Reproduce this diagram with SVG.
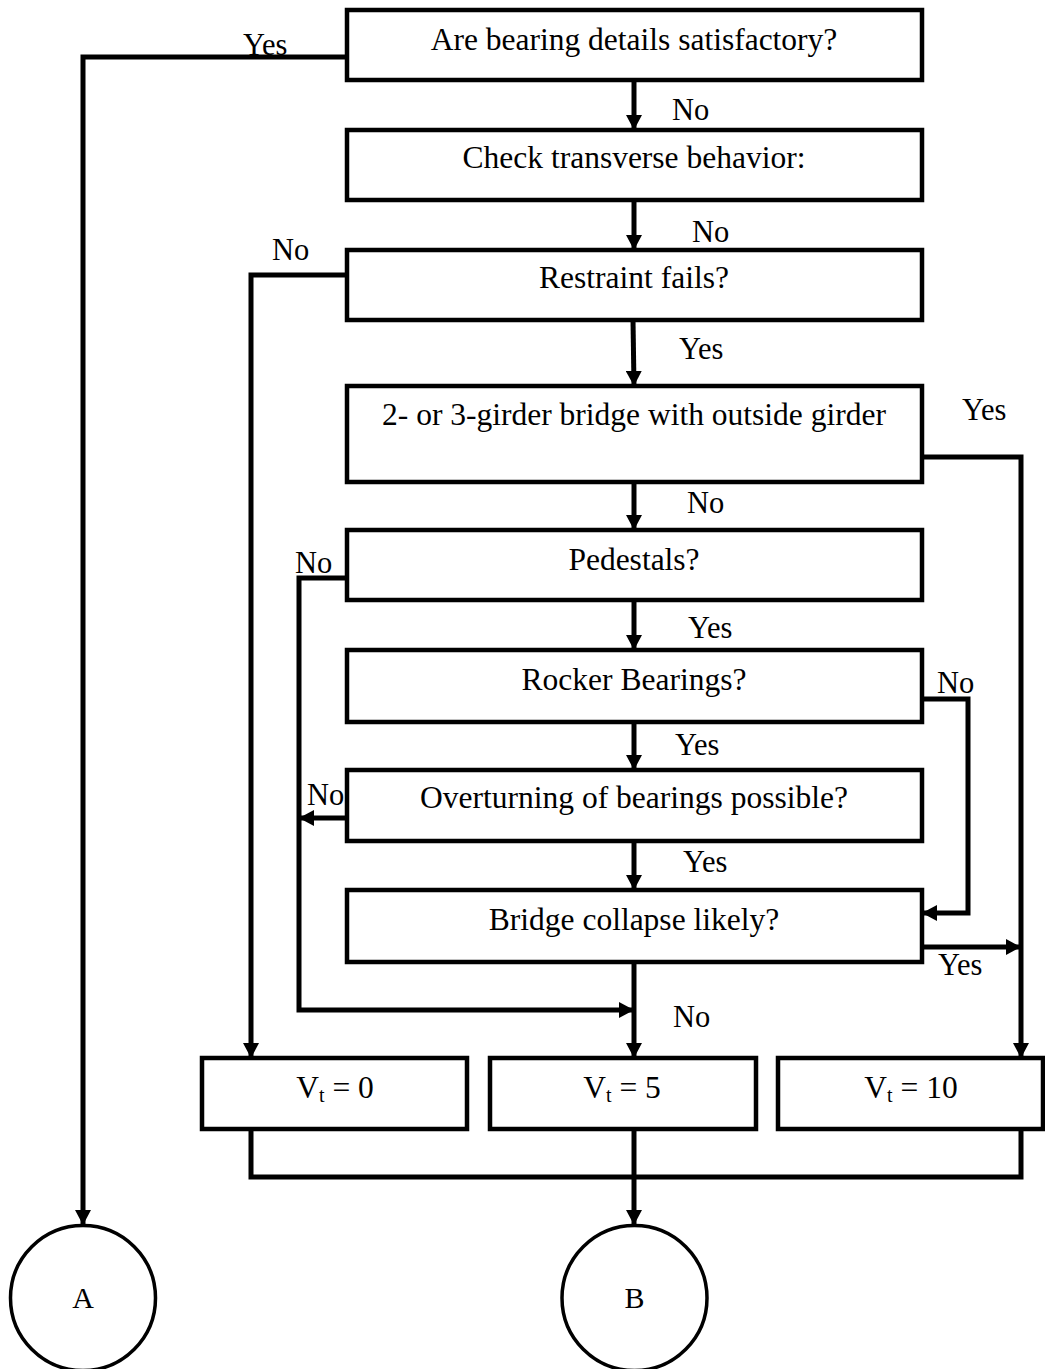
<svg xmlns="http://www.w3.org/2000/svg" width="1045" height="1369" viewBox="0 0 1045 1369">
<style>
.box{fill:#fff;stroke:#000;stroke-width:4.5}
.t{font-family:"Liberation Serif","Times New Roman",serif;font-size:31.5px;fill:#000;text-anchor:middle}
.lbl{font-family:"Liberation Serif","Times New Roman",serif;font-size:30.5px;fill:#000}
.c{fill:none;stroke:#000;stroke-width:5;stroke-linejoin:miter}
.sub{font-size:20px}
</style>
<defs>
<marker id="ah" markerUnits="userSpaceOnUse" markerWidth="16" markerHeight="16" refX="15" refY="8" orient="auto">
<path d="M0,0 L15,8 L0,16 z" fill="#000"/>
</marker>
</defs>
<rect width="1045" height="1369" fill="#fff"/>
<g id="connectors">
<path class="c" d="M347,57 H83 V1225" marker-end="url(#ah)"/>
<path class="c" d="M634,80 V130" marker-end="url(#ah)"/>
<path class="c" d="M634,200 V250" marker-end="url(#ah)"/>
<path class="c" d="M347,275 H251 V1058" marker-end="url(#ah)"/>
<path class="c" d="M633,320 L634,386" marker-end="url(#ah)"/>
<path class="c" d="M922,457 H1021 V1058" marker-end="url(#ah)"/>
<path class="c" d="M634,482 V530" marker-end="url(#ah)"/>
<path class="c" d="M347,578 H299 V1010 H634" marker-end="url(#ah)"/>
<path class="c" d="M634,600 V650" marker-end="url(#ah)"/>
<path class="c" d="M922,699 H968 V913 H922" marker-end="url(#ah)"/>
<path class="c" d="M634,722 V770" marker-end="url(#ah)"/>
<path class="c" d="M347,818 H299" marker-end="url(#ah)"/>
<path class="c" d="M634,841 V890" marker-end="url(#ah)"/>
<path class="c" d="M922,947 H1021" marker-end="url(#ah)"/>
<path class="c" d="M634,962 V1058" marker-end="url(#ah)"/>
<path class="c" d="M251,1129 V1177 H1021 V1129"/>
<path class="c" d="M634,1129 V1225" marker-end="url(#ah)"/>
</g>
<g id="labels">
<text class="lbl" x="243" y="55">Yes</text>
<text class="lbl" x="672" y="120">No</text>
<text class="lbl" x="692" y="242">No</text>
<text class="lbl" x="272" y="260">No</text>
<text class="lbl" x="679" y="359">Yes</text>
<text class="lbl" x="962" y="420">Yes</text>
<text class="lbl" x="687" y="513">No</text>
<text class="lbl" x="295" y="573">No</text>
<text class="lbl" x="688" y="638">Yes</text>
<text class="lbl" x="937" y="693">No</text>
<text class="lbl" x="675" y="755">Yes</text>
<text class="lbl" x="307" y="805">No</text>
<text class="lbl" x="683" y="872">Yes</text>
<text class="lbl" x="938" y="975">Yes</text>
<text class="lbl" x="673" y="1027">No</text>
</g>
<g id="n1"><rect class="box" x="347" y="10" width="575" height="70"/><text class="t" x="634" y="50">Are bearing details satisfactory?</text></g>
<g id="n2"><rect class="box" x="347" y="130" width="575" height="70"/><text class="t" x="634" y="168">Check transverse behavior:</text></g>
<g id="n3"><rect class="box" x="347" y="250" width="575" height="70"/><text class="t" x="634" y="288">Restraint fails?</text></g>
<g id="n4"><rect class="box" x="347" y="386" width="575" height="96"/><text class="t" x="634" y="425">2- or 3-girder bridge with outside girder</text></g>
<g id="n5"><rect class="box" x="347" y="530" width="575" height="70"/><text class="t" x="634" y="570">Pedestals?</text></g>
<g id="n6"><rect class="box" x="347" y="650" width="575" height="72"/><text class="t" x="634" y="690">Rocker Bearings?</text></g>
<g id="n7"><rect class="box" x="347" y="770" width="575" height="71"/><text class="t" x="634" y="808">Overturning of bearings possible?</text></g>
<g id="n8"><rect class="box" x="347" y="890" width="575" height="72"/><text class="t" x="634" y="930">Bridge collapse likely?</text></g>
<g id="v0"><rect class="box" x="202" y="1058" width="265" height="71"/><text class="t" x="335" y="1098">V<tspan class="sub" dy="4">t</tspan><tspan dy="-4"> = 0</tspan></text></g>
<g id="v5"><rect class="box" x="490" y="1058" width="266" height="71"/><text class="t" x="622" y="1098">V<tspan class="sub" dy="4">t</tspan><tspan dy="-4"> = 5</tspan></text></g>
<g id="v10"><rect class="box" x="778" y="1058" width="265" height="71"/><text class="t" x="911" y="1098">V<tspan class="sub" dy="4">t</tspan><tspan dy="-4"> = 10</tspan></text></g>
<g id="A"><circle cx="83" cy="1298" r="72.5" fill="#fff" stroke="#000" stroke-width="3.5"/><text class="t" x="83" y="1308" style="font-size:30px">A</text></g>
<g id="B"><circle cx="634.5" cy="1298" r="72.5" fill="#fff" stroke="#000" stroke-width="3.5"/><text class="t" x="634.5" y="1308" style="font-size:30px">B</text></g>
</svg>
